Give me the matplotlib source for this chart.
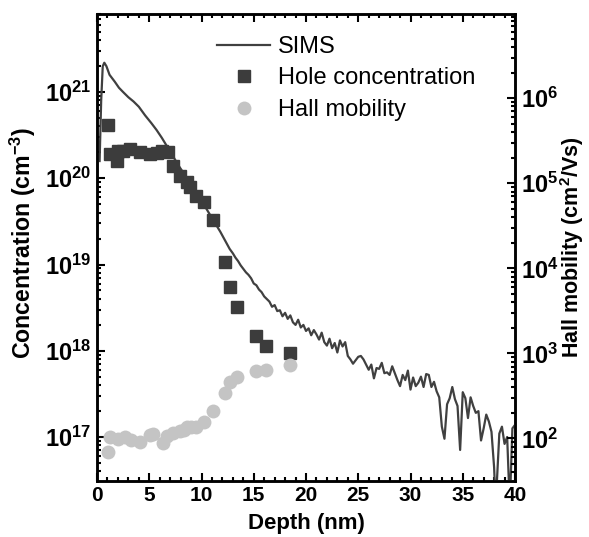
import numpy as np
import matplotlib.pyplot as plt
from matplotlib.ticker import LogLocator, NullFormatter, MultipleLocator
from matplotlib.lines import Line2D

plt.rcParams['font.family'] = ['Liberation Sans', 'DejaVu Sans']
plt.rcParams['mathtext.fontset'] = 'custom'
plt.rcParams['mathtext.rm'] = 'Liberation Sans:bold'
plt.rcParams['mathtext.bf'] = 'Liberation Sans:bold'
plt.rcParams['mathtext.it'] = 'Liberation Sans:bold'
plt.rcParams['mathtext.default'] = 'bf'

# SIMS profile (depth in nm, log10 of concentration in cm^-3)
sims_depth = [0.25, 0.4, 0.55, 0.7, 0.9, 1.2, 1.7, 2.1, 2.5, 3.0, 3.5, 4.0, 4.6, 5.2,
              5.7, 6.2, 6.7, 7.3, 7.9, 8.4, 8.9, 9.5, 10.0, 10.5, 11.0, 11.5, 11.8, 12.2,
              12.7, 13.0,
              13.25, 13.5, 13.75, 14.0, 14.25, 14.5, 14.75, 15.0, 15.25, 15.5, 15.75, 16.0,
              16.25, 16.5, 16.75, 17.0, 17.25, 17.5, 17.75, 18.0, 18.25, 18.5, 18.75, 19.0,
              19.25, 19.5, 19.75, 20.0, 20.25, 20.5, 20.75, 21.0, 21.25, 21.5, 21.75, 22.0,
              22.25, 22.5, 22.75, 23.0, 23.25, 23.5, 23.75, 24.0, 24.25, 24.5, 24.75, 25.0,
              25.25, 25.5, 25.75, 26.0, 26.25, 26.5, 26.75, 27.0, 27.25, 27.5, 27.75, 28.0,
              28.25, 28.5, 28.75, 29.0, 29.25, 29.5, 29.75, 30.0, 30.25, 30.5, 30.75, 31.0,
              31.25, 31.5, 31.75, 32.0, 32.25, 32.5, 32.75, 33.0, 33.25, 33.5, 33.75, 34.0,
              34.25, 34.5, 34.75, 35.0, 35.25, 35.5, 35.75, 36.0, 36.25, 36.5, 36.75, 37.0,
              37.25, 37.5, 37.75, 38.0, 38.15, 38.5, 38.75, 39.0, 39.25, 39.5, 39.75, 40.0]
sims_log = [20.2, 20.9, 21.3, 21.34, 21.3, 21.2, 21.12, 21.05, 21.0, 20.94, 20.89, 20.83,
            20.73, 20.64, 20.56, 20.47, 20.37, 20.25, 20.13, 20.04, 19.94, 19.84, 19.74,
            19.64, 19.54, 19.44, 19.38, 19.29, 19.18, 19.13,
            19.08, 19.04, 18.99, 18.95, 18.91, 18.88, 18.84, 18.78, 18.76, 18.71, 18.68, 18.63,
            18.60, 18.57, 18.51, 18.53, 18.46, 18.47, 18.40, 18.44, 18.37, 18.41, 18.33, 18.30,
            18.36, 18.27, 18.30, 18.23, 18.26, 18.18, 18.24, 18.19, 18.13, 18.21, 18.10, 18.06,
            18.14, 18.03, 18.09, 17.98, 18.12, 18.05, 18.10, 17.94, 17.90, 17.85, 17.89, 17.93,
            17.94, 17.90, 17.84, 17.78, 17.84, 17.68, 17.80, 17.79, 17.86, 17.74, 17.75, 17.72,
            17.82, 17.74, 17.66, 17.59, 17.72, 17.66, 17.77, 17.55, 17.69, 17.59, 17.63, 17.70,
            17.58, 17.73, 17.72, 17.58, 17.64, 17.53, 17.46, 17.12, 16.98, 17.38, 17.45, 17.58,
            17.44, 17.36, 16.85, 17.52, 17.45, 17.22, 17.46, 17.36, 17.28, 17.30, 16.96, 17.10,
            17.26, 17.18, 17.06, 16.65, 16.2, 17.04, 17.12, 16.92, 17.00, 16.2, 17.10, 17.14]

# Hall measurements
hall_depth = [1.08, 1.24, 1.88, 2.04, 2.5, 3.16, 4.1, 5.07, 5.7, 6.2, 6.8, 7.3, 7.9,
              8.6, 8.9, 9.5, 10.2, 11.1, 12.25, 12.73, 13.37, 15.2, 16.2, 18.5]
hole_conc = [4.1e20, 1.9e20, 1.6e20, 2.1e20, 2.1e20, 2.2e20, 2.0e20, 1.9e20, 1.95e20,
             2.1e20, 2.0e20, 1.4e20, 1.05e20, 9.1e19, 8.0e19, 6.2e19, 5.3e19, 3.3e19,
             1.07e19, 5.5e18, 3.2e18, 1.48e18, 1.15e18, 9.5e17]

mob_depth = [1.08, 1.24, 2.04, 2.68, 3.3, 4.1, 5.07, 5.4, 6.3, 6.67, 7.3, 7.9, 8.3,
             8.6, 9.0, 9.5, 10.2, 11.1, 12.25, 12.73, 13.37, 15.2, 16.2, 18.5]
hall_mob = [69, 105, 98, 105, 95, 91, 110, 112, 89, 107, 115, 123, 127, 135, 137,
            135, 155, 210, 345, 460, 525, 615, 645, 725]

x_ticks = [0, 5, 10, 15, 20, 25, 30, 35, 40]

fig = plt.figure(figsize=(5.89, 5.37), dpi=100)
ax = fig.add_axes([97/589, 1 - 481/537, 418/589, 467/537])
ax2 = ax.twinx()

ax.plot(sims_depth, 10**np.array(sims_log), color='#404040', lw=1.6, label='SIMS', zorder=3)
ax.plot(hall_depth, hole_conc, 's', color='#3c3c3c', ms=9, mec='#3c3c3c', zorder=4)
ax2.plot(mob_depth, hall_mob, 'o', color='#c4c4c4', ms=10, mec='none')

ax.set_yscale('log')
ax2.set_yscale('log')
ax.set_xlim(0, 40)
ax.set_ylim(10**16.49, 10**21.905)
ax2.set_ylim(10**1.5, 10**6.99)

ax.set_xticks(x_ticks)
ax.set_xticklabels([str(v) for v in x_ticks], fontsize=15, fontweight='bold')
ax.xaxis.set_minor_locator(MultipleLocator(1))

ax.set_yticks([1e17, 1e18, 1e19, 1e20, 1e21])
ax.set_yticklabels([r'$10^{17}$', r'$10^{18}$', r'$10^{19}$', r'$10^{20}$', r'$10^{21}$'],
                   fontsize=17)
ax2.set_yticks([1e2, 1e3, 1e4, 1e5, 1e6])
ax2.set_yticklabels([r'$10^{2}$', r'$10^{3}$', r'$10^{4}$', r'$10^{5}$', r'$10^{6}$'],
                    fontsize=17)
for a in (ax, ax2):
    a.yaxis.set_minor_locator(LogLocator(base=10, subs=np.arange(2, 10), numticks=20))
    a.yaxis.set_minor_formatter(NullFormatter())

ax.tick_params(which='both', direction='in', width=1.5, top=True, right=False)
ax.tick_params(which='major', length=6)
ax.tick_params(which='minor', length=3)
ax.tick_params(axis='y', pad=4)
ax2.tick_params(which='both', direction='in', width=1.5)
ax2.tick_params(which='major', length=6, pad=4)
ax2.tick_params(which='minor', length=3)

for a in (ax, ax2):
    for s in a.spines.values():
        s.set_linewidth(1.8)

ax.set_xlabel('Depth (nm)', fontsize=16, fontweight='bold', labelpad=6)
ax.set_ylabel(r'Concentration (cm$^{-3}$)', fontsize=16.7, fontweight='bold')
ax.yaxis.set_label_coords(-0.14, 0.51)
ax2.set_ylabel(r'Hall mobility (cm$^2$/Vs)', fontsize=15.5, fontweight='bold')
ax2.yaxis.set_label_coords(1.103, 0.5)

handles = [Line2D([], [], color='#404040', lw=1.6),
           Line2D([], [], marker='s', ls='none', color='#3c3c3c', ms=9),
           Line2D([], [], marker='o', ls='none', color='#c4c4c4', ms=10, mec='none')]
ax2.legend(handles, ['SIMS', 'Hole concentration', 'Hall mobility'],
           loc='upper left', bbox_to_anchor=(217/589, 1 - 36/537),
           bbox_transform=fig.transFigure, frameon=False, fontsize=17,
           handlelength=2.25, handletextpad=0.35, labelspacing=0.4,
           borderpad=0, borderaxespad=0)

fig.savefig('out.png', dpi=100)
